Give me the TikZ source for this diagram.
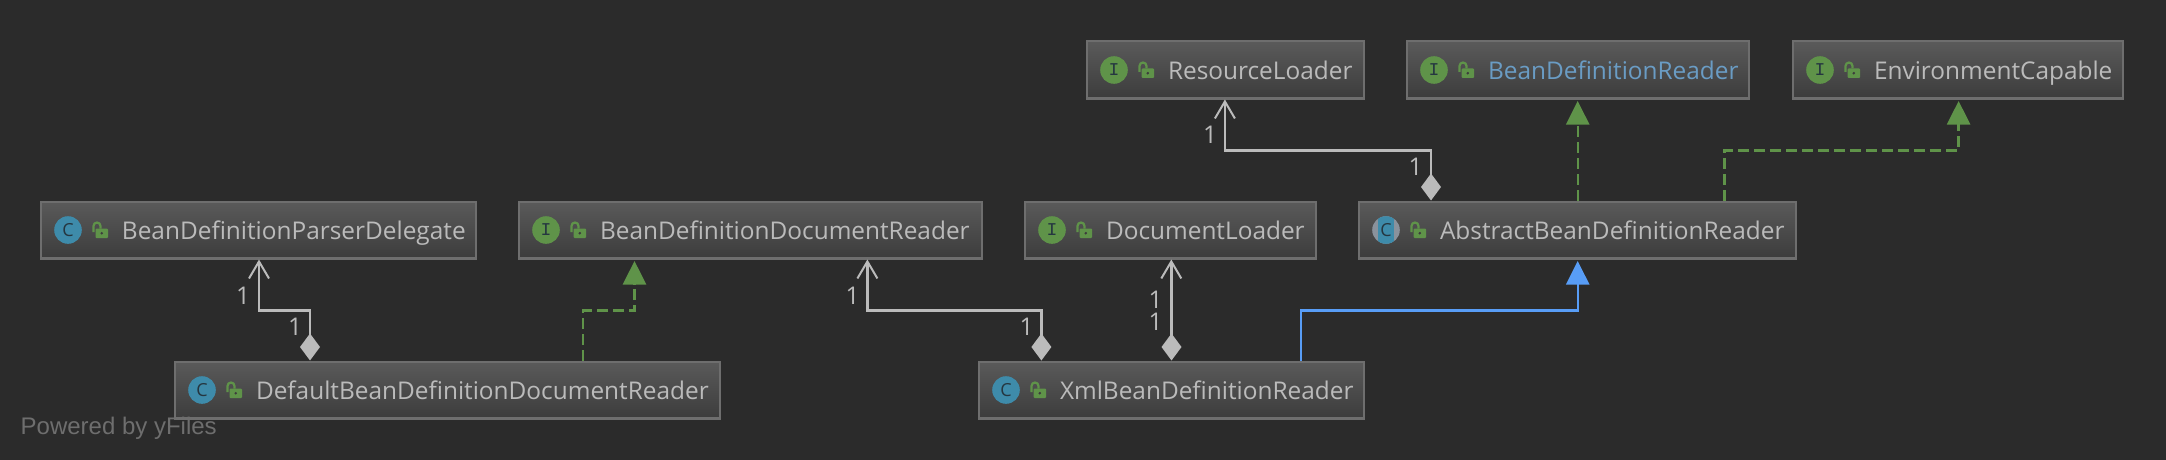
\documentclass[tikz,border=0pt]{standalone}
\usepackage{fontspec}
\setmainfont{Open Sans}
\newfontfamily\markfont{Liberation Sans}
\newfontfamily\typefont{Liberation Mono}
\usetikzlibrary{arrows.meta}
\definecolor{canvas}{HTML}{2B2B2B}
\definecolor{boxtop}{HTML}{5A5A5A}
\definecolor{boxbottom}{HTML}{3C3C3C}
\definecolor{boxedge}{HTML}{6E6E6E}
\definecolor{labelgrey}{HTML}{BBBBBB}
\definecolor{linkblue}{HTML}{6A9CC4}
\definecolor{implgreen}{HTML}{5F9349}
\definecolor{extblue}{HTML}{589DF6}
\definecolor{classblue}{HTML}{3E8BAA}
\definecolor{abstractgrey}{HTML}{8A929C}
\definecolor{letterdark}{HTML}{253640}
\tikzset{
	umlbox/.style={rectangle, draw=boxedge, line width=2pt, top color=boxtop, bottom color=boxbottom, anchor=west, inner sep=0pt, outer sep=1pt, minimum height=57pt, text height=18pt, text depth=0pt, font=\fontsize{24.4}{29}\selectfont},
	classicon/.style={circle, fill=classblue, minimum size=27.6pt, inner sep=0pt, text=letterdark, font=\fontsize{18}{18}\selectfont},
	ifaceicon/.style={circle, fill=implgreen, minimum size=27.6pt, inner sep=0pt, text=letterdark, font=\fontsize{18}{18}\typefont},
	abstracticon/.style={classicon, fill=abstractgrey, path picture={\fill[classblue] ([xshift=-8pt]path picture bounding box.south) rectangle ([xshift=8pt]path picture bounding box.north);}},
	lockicon/.pic={
		\fill[implgreen, rounded corners=1pt] (-4.5,-1.5) rectangle (8,8);
		\fill[boxbottom] (1.8,3.2) circle (1.4);
		\draw[implgreen, line width=2.2pt] (-6.5,2) -- (-6.5,-4) arc[start angle=180, end angle=360, radius=3.5] -- (0.5,-1.5);
	},
	assoc/.style={labelgrey, line width=2.4pt, {Diamond[length=27pt,width=20pt]}-{Straight Barb[length=17pt,width=20pt,line width=2pt]}},
	realize/.style={implgreen, line width=2.4pt, dash pattern=on 11pt off 5pt, -{Triangle[length=23.5pt,width=23pt]}, shorten >=1.5pt},
	extend/.style={extblue, line width=2.4pt, -{Triangle[length=23.5pt,width=23pt]}, shorten >=1.5pt},
	mult/.style={text=labelgrey, inner sep=0pt, font=\fontsize{24.4}{29}\selectfont},
}
\begin{document}
\begin{tikzpicture}[x=1pt,y=-1pt]
	\fill[canvas] (0,0) rectangle (2166,460);
	\useasboundingbox (0,0) rectangle (2166,460);

	% boxes: left edge, middle, width, icon, letter, text colour, name
	\foreach \n/\x/\y/\w/\kind/\letter/\col/\txt in {
		delegate/40/230/435/classicon/C/labelgrey/BeanDefinitionParserDelegate,
		docreader/518/230/463/ifaceicon/I/labelgrey/BeanDefinitionDocumentReader,
		docloader/1024/230/291/ifaceicon/I/labelgrey/DocumentLoader,
		abstract/1358/230/437/abstracticon/C/labelgrey/AbstractBeanDefinitionReader,
		resource/1086/70/277/ifaceicon/I/labelgrey/ResourceLoader,
		bdreader/1406/70/342/ifaceicon/I/linkblue/BeanDefinitionReader,
		envcap/1792/70/330/ifaceicon/I/labelgrey/EnvironmentCapable,
		dflt/174/390/545/classicon/C/labelgrey/DefaultBeanDefinitionDocumentReader,
		xml/978/390/385/classicon/C/labelgrey/XmlBeanDefinitionReader}
	{
		\node[umlbox, minimum width=\w pt, text width=\w pt, text=\col] (\n) at (\x,\y) {\hspace*{81pt}\mbox{\txt}};
		\draw[boxedge, line width=3pt] ([yshift=1.5pt]\n.south west) -- ([yshift=1.5pt]\n.south east);
		\node[\kind] (\n-icon) at (\x+28,\y) {\letter};
		\pic at (\x+60,\y) {lockicon};
	}

	% connectors: from, offset on it, to, offset on it
	\foreach \from/\fx/\to/\tx/\kind in {
		dflt/136/delegate/219/assoc,
		dflt/409/docreader/116.5/realize,
		xml/63.4/docreader/349.4/assoc,
		xml/193.5/docloader/147.3/assoc,
		xml/322.8/abstract/219.7/extend,
		abstract/73/resource/138.9/assoc,
		abstract/219.7/bdreader/171.7/realize,
		abstract/366.3/envcap/166.6/realize}
	\draw[\kind] ([xshift=\fx pt]\from.north west) -- ++(0,-50) -| ([xshift=\tx pt]\to.south west);

	\foreach \x/\y [count=\i] in {243/296,295/327,852.7/296,1026.7/327,1155.7/300,1155.7/322,1210/135,1415.7/167}
	\node[mult] (m\i) at (\x,\y) {1};

	\node[text=boxedge, anchor=west, inner sep=0pt, font=\fontsize{24}{27}\markfont] (power) at (20.5,428) {Powered by yFiles};
\end{tikzpicture}
\end{document}
